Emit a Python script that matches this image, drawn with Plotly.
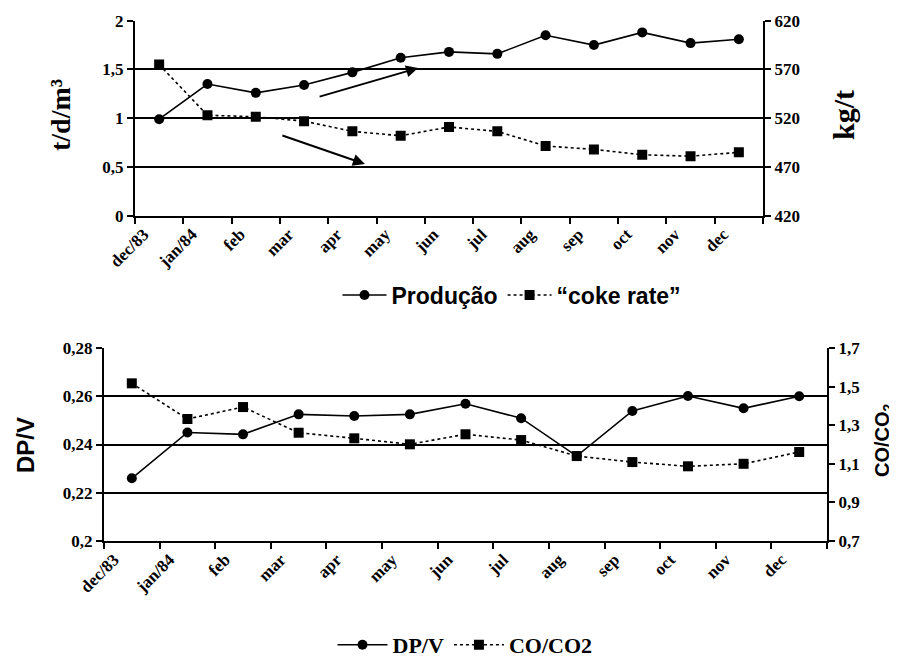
import plotly.graph_objects as go

months = ["dec/83", "jan/84", "feb", "mar", "apr", "may", "jun", "jul", "aug", "sep", "oct", "nov", "dec"]
producao = [0.99, 1.35, 1.26, 1.34, 1.47, 1.62, 1.68, 1.66, 1.85, 1.75, 1.88, 1.77, 1.81]
coke_rate = [575, 523, 521.5, 517, 506.5, 502, 511, 506.5, 491.5, 488, 482.5, 481, 485]
dpv = [0.226, 0.245, 0.2442, 0.2525, 0.2518, 0.2525, 0.2569, 0.2509, 0.2352, 0.2539, 0.2601, 0.2550, 0.2600]
co_co2 = [1.517, 1.332, 1.394, 1.261, 1.232, 1.201, 1.253, 1.223, 1.140, 1.109, 1.087, 1.100, 1.161]

top_left_ticks = [0, 0.5, 1, 1.5, 2]
top_left_text = ["0", "0,5", "1", "1,5", "2"]
top_right_ticks = [420, 470, 520, 570, 620]
bot_left_ticks = [0.2, 0.22, 0.24, 0.26, 0.28]
bot_left_text = ["0,2", "0,22", "0,24", "0,26", "0,28"]
bot_right_ticks = [0.7, 0.9, 1.1, 1.3, 1.5, 1.7]
bot_right_text = ["0,7", "0,9", "1,1", "1,3", "1,5", "1,7"]

x = list(range(len(months)))
label_pos = [i - 0.32 for i in x]

# page body has an 8px margin: lay the figure out in window pixels
OFF = 8
W, H = 897 - OFF, 659 - OFF


def PX(px):
    return (px - OFF) / W


def PY(py):
    return 1 - (py - OFF) / H


SERIF = "Liberation Serif"
SANS = "Liberation Sans"
tickfont = dict(family=SERIF, size=17, color="black", weight="bold")

fig = go.Figure()

fig.add_trace(go.Scatter(x=x, y=producao, name="Produção", mode="lines+markers",
                         line=dict(color="black", width=1.6),
                         marker=dict(symbol="circle", size=10, color="black"),
                         xaxis="x", yaxis="y", legend="legend"))
fig.add_trace(go.Scatter(x=x, y=coke_rate, name="“coke rate”", mode="lines+markers",
                         line=dict(color="black", width=1.6, dash="dot"),
                         marker=dict(symbol="square", size=10, color="black"),
                         xaxis="x", yaxis="y2", legend="legend"))
fig.add_trace(go.Scatter(x=x, y=dpv, name="DP/V", mode="lines+markers",
                         line=dict(color="black", width=1.6),
                         marker=dict(symbol="circle", size=10, color="black"),
                         xaxis="x2", yaxis="y3", legend="legend2"))
fig.add_trace(go.Scatter(x=x, y=co_co2, name="CO/CO2", mode="lines+markers",
                         line=dict(color="black", width=1.6, dash="dot"),
                         marker=dict(symbol="square", size=10, color="black"),
                         xaxis="x2", yaxis="y4", legend="legend2"))

xr = [-0.5, len(months) - 0.5]
top_dom_x = [PX(135), PX(763)]
top_dom_y = [PY(215.7), PY(20.7)]
bot_dom_x = [PX(104), PX(827)]
bot_dom_y = [PY(541), PY(348)]

xaxis_common = dict(range=xr, tickvals=label_pos, ticktext=months, ticks="", tickangle=-45,
                    tickfont=dict(family=SERIF, size=17, color="black", weight="bold"),
                    minor=dict(tick0=-0.5, dtick=1, ticks="outside", ticklen=6, tickwidth=2,
                               tickcolor="black", showgrid=False),
                    showline=True, linecolor="black", linewidth=2, showgrid=False, zeroline=False,
                    automargin=False)
yaxis_common = dict(ticks="outside", ticklen=6, tickwidth=2, tickcolor="black", showline=True,
                    linecolor="black", linewidth=2, zeroline=False, tickfont=tickfont,
                    automargin=False)

fig.update_layout(
    width=W, height=H, margin=dict(l=0, r=0, t=0, b=0, pad=0, autoexpand=False),
    paper_bgcolor="white", plot_bgcolor="white",
    xaxis=dict(domain=top_dom_x, anchor="y", **xaxis_common),
    xaxis2=dict(domain=bot_dom_x, anchor="y3", **xaxis_common),
    yaxis=dict(domain=top_dom_y, anchor="x", range=[0, 2], tickvals=top_left_ticks,
               ticktext=top_left_text, showgrid=True, gridcolor="black", gridwidth=2,
               **yaxis_common),
    yaxis2=dict(overlaying="y", side="right", anchor="x", range=[420, 620],
                tickvals=top_right_ticks, showgrid=False, **yaxis_common),
    yaxis3=dict(domain=bot_dom_y, anchor="x2", range=[0.2, 0.28], tickvals=bot_left_ticks,
                ticktext=bot_left_text, showgrid=True, gridcolor="black", gridwidth=2,
                **yaxis_common),
    yaxis4=dict(overlaying="y3", side="right", anchor="x2", range=[0.7, 1.7],
                tickvals=bot_right_ticks, ticktext=bot_right_text, showgrid=False,
                **yaxis_common),
    legend=dict(orientation="h", x=PX(512), y=PY(295), xanchor="center", yanchor="middle",
                font=dict(family=SANS, size=23, color="black", weight="bold"), itemwidth=44,
                bgcolor="rgba(0,0,0,0)"),
    legend2=dict(orientation="h", x=PX(465), y=PY(645), xanchor="center", yanchor="middle",
                 font=dict(family=SERIF, size=22, color="black", weight="bold"), itemwidth=50,
                 bgcolor="rgba(0,0,0,0)"),
    showlegend=True,
)

# axis titles
title_common = dict(xref="paper", yref="paper", textangle=-90, showarrow=False,
                    xanchor="center", yanchor="middle")
fig.add_annotation(text="<b>t/d/m³</b>", x=PX(60), y=PY(115),
                   font=dict(family=SERIF, size=28, color="black"), **title_common)
fig.add_annotation(text="<b>kg/t</b>", x=PX(843), y=PY(115),
                   font=dict(family=SERIF, size=30, color="black"), **title_common)
fig.add_annotation(text="<b>DP/V</b>", x=PX(25), y=PY(445),
                   font=dict(family=SANS, size=24, color="black"), **title_common)
fig.add_annotation(text="<b>CO/CO<sub>2</sub></b>", x=PX(883), y=PY(440),
                   font=dict(family=SANS, size=20, color="black"), **title_common)

# trend arrows
fig.add_annotation(x=5.36, y=1.515, ax=3.29, ay=1.217, xref="x", yref="y", axref="x", ayref="y",
                   showarrow=True, arrowhead=2, arrowsize=1.2, arrowwidth=2, arrowcolor="black", text="")
fig.add_annotation(x=4.26, y=0.53, ax=2.52, ay=0.828, xref="x", yref="y", axref="x", ayref="y",
                   showarrow=True, arrowhead=2, arrowsize=1.2, arrowwidth=2, arrowcolor="black", text="")

fig.write_html("out.html")
